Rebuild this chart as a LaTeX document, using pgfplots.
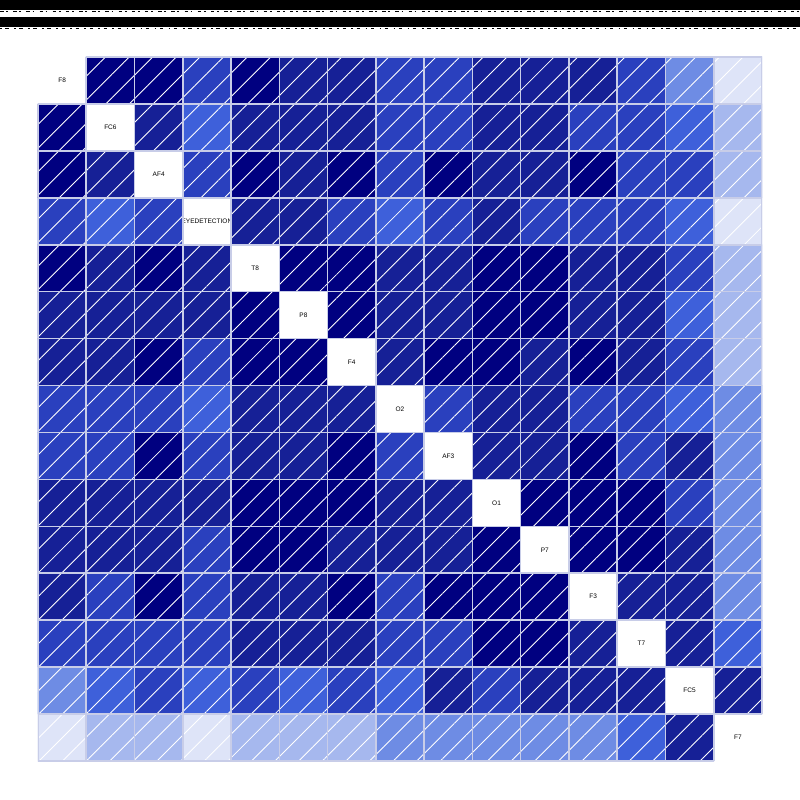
\documentclass[border=0pt]{standalone}
\usepackage{pgfplots}
\pgfplotsset{compat=1.18}
\usepackage{fontspec}
\setmainfont{Liberation Sans}
\usetikzlibrary{patterns.meta}
\definecolor{gridc}{RGB}{200,205,232}

\begin{document}
\begin{tikzpicture}[lab/.style={font=\fontsize{3.7}{4}\selectfont, inner sep=0pt}]
    \path[use as bounding box] (0,0) rectangle (16cm,16cm);
    % garbled title band
    \fill[black] (0,16cm) rectangle (16cm,15.8cm);
    \fill[black] (0,15.66cm) rectangle (16cm,15.46cm);
    \draw[black, line width=0.6pt, dash pattern=on 2pt off 1.5pt on 1pt off 3pt] (0,15.77cm) -- (16cm,15.77cm);
    \draw[black, line width=0.6pt, dash pattern=on 1pt off 2pt on 2pt off 3pt] (0,15.43cm) -- (16cm,15.43cm);
    \begin{axis}[
        at={(0.76cm,0.78cm)}, anchor=south west,
        scale only axis,
        width=14.48cm, height=14.08cm,
        xmin=-0.5, xmax=14.5, ymin=-0.5, ymax=14.5,
        y dir=reverse,
        xtick={0.5,1.5,...,13.5}, ytick={0.5,1.5,...,13.5},
        xticklabels={}, yticklabels={},
        major tick length=0pt,
        grid=major,
        major grid style={gridc, line width=0.9pt},
        axis line style={draw=none},
        axis on top,
        colormap={corr}{
            rgb255=(255,255,255) rgb255=(222,228,248) rgb255=(166,184,238)
            rgb255=(110,140,228) rgb255=(62,96,218) rgb255=(42,64,190)
            rgb255=(22,32,150) rgb255=(0,0,128)},
        colormap access=direct,
    ]
    \addplot[matrix plot*, mesh/cols=15, point meta=explicit] table[meta=c] {
x y c
0 0 0
1 0 7
2 0 7
3 0 5
4 0 7
5 0 6
6 0 6
7 0 5
8 0 5
9 0 6
10 0 6
11 0 6
12 0 5
13 0 3
14 0 1
0 1 7
1 1 0
2 1 6
3 1 4
4 1 6
5 1 6
6 1 6
7 1 5
8 1 5
9 1 6
10 1 6
11 1 5
12 1 5
13 1 4
14 1 2
0 2 7
1 2 6
2 2 0
3 2 5
4 2 7
5 2 6
6 2 7
7 2 5
8 2 7
9 2 6
10 2 6
11 2 7
12 2 5
13 2 5
14 2 2
0 3 5
1 3 4
2 3 5
3 3 0
4 3 6
5 3 6
6 3 5
7 3 4
8 3 5
9 3 6
10 3 5
11 3 5
12 3 5
13 3 4
14 3 1
0 4 7
1 4 6
2 4 7
3 4 6
4 4 0
5 4 7
6 4 7
7 4 6
8 4 6
9 4 7
10 4 7
11 4 6
12 4 6
13 4 5
14 4 2
0 5 6
1 5 6
2 5 6
3 5 6
4 5 7
5 5 0
6 5 7
7 5 6
8 5 6
9 5 7
10 5 7
11 5 6
12 5 6
13 5 4
14 5 2
0 6 6
1 6 6
2 6 7
3 6 5
4 6 7
5 6 7
6 6 0
7 6 6
8 6 7
9 6 7
10 6 6
11 6 7
12 6 6
13 6 5
14 6 2
0 7 5
1 7 5
2 7 5
3 7 4
4 7 6
5 7 6
6 7 6
7 7 0
8 7 5
9 7 6
10 7 6
11 7 5
12 7 5
13 7 4
14 7 3
0 8 5
1 8 5
2 8 7
3 8 5
4 8 6
5 8 6
6 8 7
7 8 5
8 8 0
9 8 6
10 8 6
11 8 7
12 8 5
13 8 6
14 8 3
0 9 6
1 9 6
2 9 6
3 9 6
4 9 7
5 9 7
6 9 7
7 9 6
8 9 6
9 9 0
10 9 7
11 9 7
12 9 7
13 9 5
14 9 3
0 10 6
1 10 6
2 10 6
3 10 5
4 10 7
5 10 7
6 10 6
7 10 6
8 10 6
9 10 7
10 10 0
11 10 7
12 10 7
13 10 6
14 10 3
0 11 6
1 11 5
2 11 7
3 11 5
4 11 6
5 11 6
6 11 7
7 11 5
8 11 7
9 11 7
10 11 7
11 11 0
12 11 6
13 11 6
14 11 3
0 12 5
1 12 5
2 12 5
3 12 5
4 12 6
5 12 6
6 12 6
7 12 5
8 12 5
9 12 7
10 12 7
11 12 6
12 12 0
13 12 6
14 12 4
0 13 3
1 13 4
2 13 5
3 13 4
4 13 5
5 13 4
6 13 5
7 13 4
8 13 6
9 13 5
10 13 6
11 13 6
12 13 6
13 13 0
14 13 6
0 14 1
1 14 2
2 14 2
3 14 1
4 14 2
5 14 2
6 14 2
7 14 3
8 14 3
9 14 3
10 14 3
11 14 3
12 14 4
13 14 6
14 14 0
    };
    % hatch over all cells (white on the white diagonal does not show)
    \fill[pattern={Lines[angle=45, distance=9.5pt, line width=0.5pt]}, pattern color=white]
        (axis cs:-0.5,-0.5) rectangle (axis cs:14.5,14.5);
    % outer edges of the coloured cells (the corner diagonal cells have none)
    \draw[gridc, line width=0.9pt]
        (axis cs:0.5,-0.5) -- (axis cs:14.5,-0.5) -- (axis cs:14.5,13.5);
    \draw[gridc, line width=0.9pt]
        (axis cs:13.5,14.5) -- (axis cs:-0.5,14.5) -- (axis cs:-0.5,0.5);
    % diagonal labels
    \node[lab] at (axis cs:0,0) {F8};
    \node[lab] at (axis cs:1,1) {FC6};
    \node[lab] at (axis cs:2,2) {AF4};
    \node[lab] at (axis cs:3,3) {EYEDETECTION};
    \node[lab] at (axis cs:4,4) {T8};
    \node[lab] at (axis cs:5,5) {P8};
    \node[lab] at (axis cs:6,6) {F4};
    \node[lab] at (axis cs:7,7) {O2};
    \node[lab] at (axis cs:8,8) {AF3};
    \node[lab] at (axis cs:9,9) {O1};
    \node[lab] at (axis cs:10,10) {P7};
    \node[lab] at (axis cs:11,11) {F3};
    \node[lab] at (axis cs:12,12) {T7};
    \node[lab] at (axis cs:13,13) {FC5};
    \node[lab] at (axis cs:14,14) {F7};
    \end{axis}
\end{tikzpicture}
\end{document}
